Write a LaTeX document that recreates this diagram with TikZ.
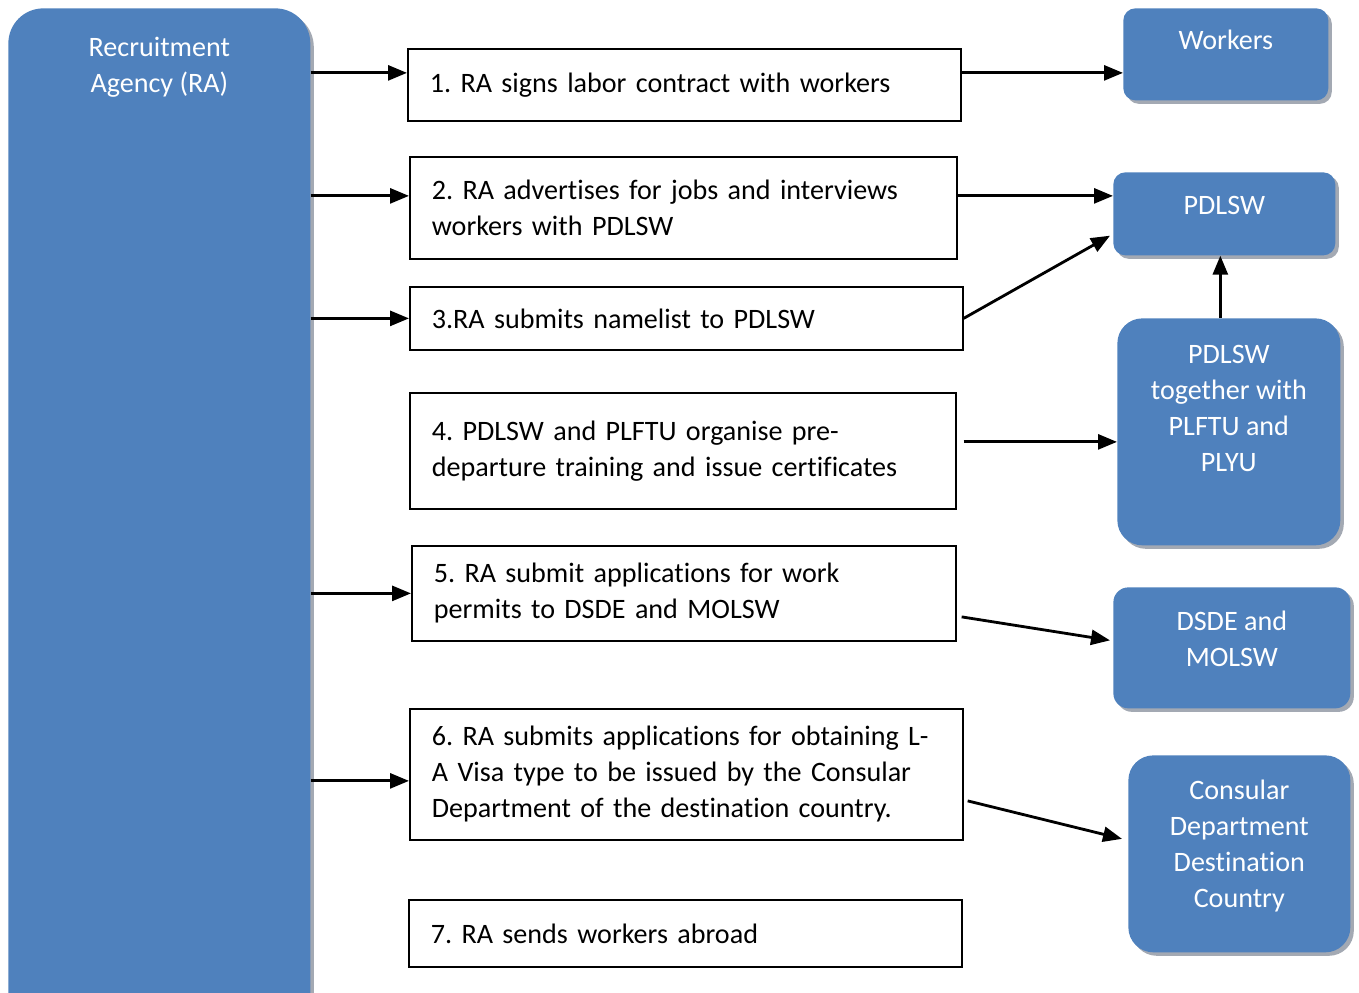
\documentclass[tikz,border=0pt]{standalone}
\usepackage{fontspec}
\setmainfont{Carlito}[Ligatures=NoCommon]
\usetikzlibrary{arrows.meta,shadows}
\definecolor{boxblue}{HTML}{4F81BD}
\definecolor{shadowgray}{HTML}{A3A9B3}
\frenchspacing
\begin{document}
\begin{tikzpicture}[x=0.02cm, y=-0.02cm,
    font=\fontsize{16}{20.5}\selectfont,
    agency/.style={fill=boxblue, anchor=north west,
      drop shadow={shadow xshift=0.07cm, shadow yshift=-0.07cm, fill=shadowgray, opacity=1}},
    whitetext/.style={anchor=north, yshift=-0.36cm, text=white, align=center},
    stepbox/.style={draw, rectangle, line width=1pt, anchor=north west, align=left, inner xsep=0.44cm},
    flow/.style={-{Triangle[length=0.38cm,width=0.3cm]}, line width=1.6pt}]
  \useasboundingbox (0,0) rectangle (1359,992);
  \clip (0,0) rectangle (1359,992);

  % agency on the left
  \node[agency, rounded corners=0.7cm, minimum width=6.04cm, minimum height=20.8cm,
    label={[whitetext, yshift=-0.1cm]north:Recruitment\\Agency (RA)}] (ra) at (8,8) {};

  % steps
  \node[stepbox, text width=10.18cm, minimum height=1.44cm] (s1) at (407,48)
    {1. RA signs labor contract with workers};
  \node[stepbox, text width=10.06cm, minimum height=2.04cm] (s2) at (409,156)
    {2. RA advertises for jobs and interviews\\workers with PDLSW};
  \node[stepbox, text width=10.18cm, minimum height=1.26cm] (s3) at (409,286)
    {3.RA submits namelist to PDLSW};
  \node[stepbox, text width=10.04cm, minimum height=2.32cm] (s4) at (409,392)
    {4. PDLSW and PLFTU organise pre-\\departure training and issue certificates};
  \node[stepbox, text width=10.0cm, minimum height=1.9cm] (s5) at (411,545)
    {5. RA submit applications for work\\permits to DSDE and MOLSW};
  \node[stepbox, text width=10.18cm, minimum height=2.62cm] (s6) at (409,708)
    {6. RA submits applications for obtaining L-\\A Visa type to be issued by the Consular\\Department of the destination country.};
  \node[stepbox, text width=10.18cm, minimum height=1.34cm] (s7) at (408,899)
    {7. RA sends workers abroad};

  % institutions on the right
  \node[agency, rounded corners=0.24cm, minimum width=4.1cm, minimum height=1.84cm,
    label={[whitetext, yshift=0.04cm]north:Workers}] (workers) at (1123,8) {};
  \node[agency, rounded corners=0.24cm, minimum width=4.44cm, minimum height=1.66cm,
    label={[whitetext]north:PDLSW}] (pdlsw) at (1113,172) {};
  \node[agency, rounded corners=0.5cm, minimum width=4.46cm, minimum height=4.54cm,
    label={[whitetext, yshift=-0.06cm]north:PDLSW\\together with\\PLFTU and\\PLYU}] (joint) at (1117,318) {};
  \node[agency, rounded corners=0.3cm, minimum width=4.74cm, minimum height=2.42cm,
    label={[whitetext]north:DSDE and\\MOLSW}] (dsde) at (1113,587) {};
  \node[agency, rounded corners=0.5cm, minimum width=4.44cm, minimum height=3.94cm,
    label={[whitetext, yshift=-0.02cm]north:Consular\\Department\\Destination\\Country}] (consular) at (1128,755) {};

  % agency to steps
  \draw[flow] ([yshift=0.24cm]s1.west -| ra.east) -- ([yshift=0.24cm]s1.west);
  \draw[flow] ([yshift=0.24cm]s2.west -| ra.east) -- ([yshift=0.24cm]s2.west);
  \draw[flow] (s3.west -| ra.east) -- (s3.west);
  \draw[flow] (s5.west -| ra.east) -- (s5.west);
  \draw[flow] ([yshift=-0.13cm]s6.west -| ra.east) -- ([yshift=-0.13cm]s6.west);

  % steps to institutions
  \draw[flow] ([yshift=0.24cm]s1.east) -- ([yshift=0.24cm]s1.east -| workers.west);
  \draw[flow] ([yshift=0.24cm]s2.east) -- ([yshift=0.24cm]s2.east -| pdlsw.west);
  \draw[flow] (s3.east) -- ([xshift=-0.06cm,yshift=0.4cm]pdlsw.south west);
  \draw[flow] ([xshift=0.14cm,yshift=0.18cm]s4.east) -- ([yshift=0.18cm]s4.east -| joint.west);
  \draw[flow] ([xshift=-0.17cm]joint.north) -- ([xshift=-0.17cm]joint.north |- pdlsw.south);
  \draw[flow] ([xshift=0.1cm,yshift=-0.47cm]s5.east) -- ([xshift=-0.06cm,yshift=0.15cm]dsde.west);
  \draw[flow] ([xshift=0.08cm,yshift=-0.53cm]s6.east) -- ([xshift=-0.12cm,yshift=0.3cm]consular.west);
\end{tikzpicture}
\end{document}
